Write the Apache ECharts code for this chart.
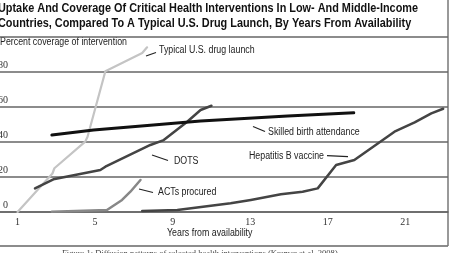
<!DOCTYPE html>
<html>
<head>
<meta charset="utf-8">
<script src="https://cdn.jsdelivr.net/npm/echarts@6/dist/echarts.min.js"></script>
<style>
  html, body { margin: 0; padding: 0; background: #fff; }
  #chart { width: 454px; height: 253px; }
</style>
</head>
<body>
<div id="chart"></div>
<script>
// years from availability / percent coverage
const usYears = [1, 2.8, 2.9, 4.49, 4.61, 5.53, 7.43, 7.68];
const usValues = [0, 22, 25, 40.2, 43, 80.4, 90.9, 94.1];

const dotsYears = [1.9, 2.85, 5.27, 5.53, 7.85, 8.54, 9.75, 10.44, 11.0];
const dotsValues = [13.5, 18.7, 24, 25.9, 38.3, 41.1, 51.6, 58.3, 60.7];

const birthYears = [2.77, 4.92, 8.0, 10.44, 14.93, 18.34];
const birthValues = [44, 46.9, 49.7, 52, 54.9, 56.7];

const actYears = [2.77, 5.61, 6.39, 6.82, 7.34];
const actValues = [0.2, 1.1, 6.9, 11.6, 18.3];

const hepYears = [7.43, 9.24, 11.99, 13.03, 14.58, 15.7, 16.48, 17.43, 18.37, 19.58, 20.44, 21.48, 22.34, 22.95];
const hepValues = [0.6, 1.1, 5, 6.9, 10.1, 11.6, 13.5, 26.9, 29.7, 39.2, 45.9, 51.2, 56.4, 59];

const xTicks = [1, 5, 9, 13, 17, 21];

const pairs = (xs, ys) => xs.map((x, i) => [x, ys[i]]);

const sans = '"Liberation Sans", Arial, sans-serif';
const serif = '"Liberation Serif", "DejaVu Serif", serif';

// no narrow font installed, so squeeze the text horizontally
const ctx = document.createElement('canvas').getContext('2d');
function fitScale(text, font, width) {
  ctx.font = font;
  return width / ctx.measureText(text).width;
}

const title1 = 'Uptake And Coverage Of Critical Health Interventions In Low- And Middle-Income';
const title2 = 'Countries, Compared To A Typical U.S. Drug Launch, By Years From Availability';
const titleFont = 'bold 13px ' + sans;
const titleScale = fitScale(title1, titleFont, 420);
const noteFont = '10px ' + sans;
const noteScale = fitScale('Percent coverage of intervention', noteFont, 127);

const note = (text, x, y) => ({
  type: 'text', x: x, y: y, scaleX: noteScale,
  style: { text: text, font: noteFont, fill: '#222' }
});
const leader = (x1, y1, x2, y2) => ({
  type: 'line', shape: { x1: x1, y1: y1, x2: x2, y2: y2 },
  style: { stroke: '#222', lineWidth: 1.2 }
});

const chart = echarts.init(document.getElementById('chart'));

const lineSeries = (data, color, width) => ({
  type: 'line',
  data: data,
  showSymbol: false,
  symbol: 'none',
  silent: true,
  lineStyle: { color: color, width: width, cap: 'round', join: 'round' }
});

const option = {
  animation: false,
  grid: { left: 0, right: 6, top: 37, bottom: 41, containLabel: false, outerBoundsMode: 'none' },
  xAxis: {
    type: 'value',
    min: 0.095,
    max: 23.2,
    axisLine: { show: true, lineStyle: { color: '#666', width: 1.5 } },
    axisTick: { show: false },
    splitLine: { show: false },
    axisLabel: {
      customValues: xTicks,
      color: '#333',
      fontFamily: serif,
      fontSize: 10,
      margin: 5
    }
  },
  yAxis: {
    type: 'value',
    min: 0,
    max: 100,
    interval: 20,
    axisLine: { show: false },
    axisTick: { show: false },
    splitLine: { show: true, lineStyle: { color: '#666', width: 1.5 } },
    axisLabel: {
      color: '#333',
      fontFamily: serif,
      fontSize: 10,
      margin: -8,
      align: 'right',
      verticalAlign: 'bottom',
      padding: [0, 0, 2, 0],
      formatter: v => (v === 100 ? '' : String(v))
    }
  },
  series: [
    lineSeries(pairs(usYears, usValues), '#c4c4c4', 2.2),
    lineSeries(pairs(actYears, actValues), '#888', 2.5),
    lineSeries(pairs(dotsYears, dotsValues), '#444', 2.5),
    lineSeries(pairs(hepYears, hepValues), '#444', 2.5),
    lineSeries(pairs(birthYears, birthValues), '#111', 3)
  ],
  graphic: [
    {
      type: 'text', x: -2, y: 1, scaleX: titleScale,
      style: { text: title1 + '\n' + title2, font: titleFont, fill: '#111', lineHeight: 15 }
    },
    note('Percent coverage of intervention', 0, 37),
    note('Years from availability', 167, 228),
    { type: 'line', shape: { x1: 0, y1: 246, x2: 448, y2: 246 }, style: { stroke: '#666', lineWidth: 1.5 } },
    { type: 'line', shape: { x1: 448, y1: 0, x2: 448, y2: 246 }, style: { stroke: '#777', lineWidth: 1.5 } },
    {
      type: 'text', x: 62, y: 249, scaleX: 0.95,
      style: { text: 'Figure 1: Diffusion patterns of selected health interventions (Kremer et al. 2008)', font: '9px ' + serif, fill: '#444' }
    },
    // annotations
    leader(146, 56, 156, 52.5),
    note('Typical U.S. drug launch', 159, 45),
    leader(253, 126.5, 265, 131.5),
    note('Skilled birth attendance', 268, 127),
    leader(152, 155, 168, 160.5),
    note('DOTS', 174, 156),
    leader(139, 189, 153, 192.5),
    note('ACTs procured', 158, 187),
    note('Hepatitis B vaccine', 249, 151),
    leader(327, 155.7, 348, 156.7)
  ]
};

chart.setOption(option);
</script>
</body>
</html>
